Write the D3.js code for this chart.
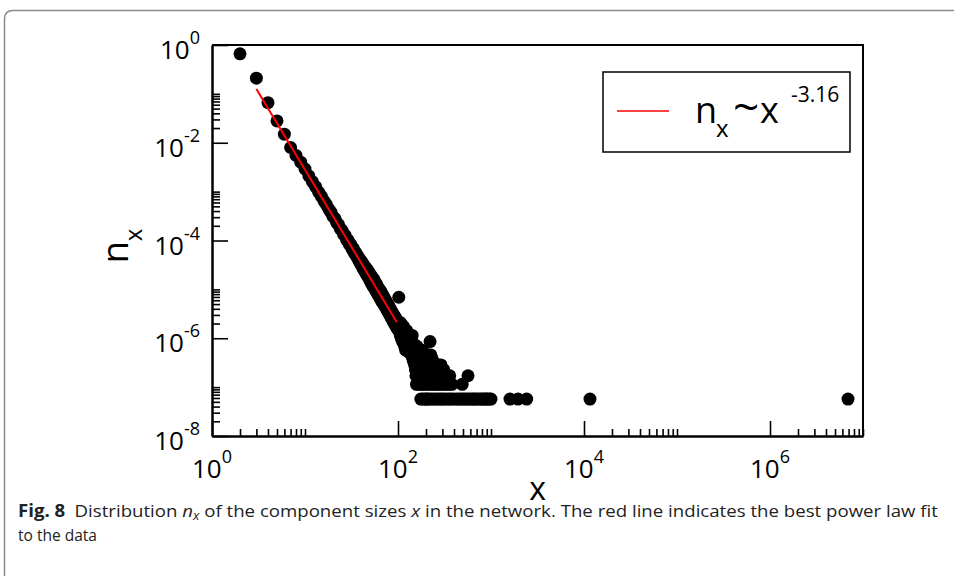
<!DOCTYPE html>
<html lang="en">
<head>
<meta charset="utf-8">
<script src="https://d3js.org/d3.v7.min.js"></script>
<style>
  body { margin: 0; background: #fff; }
  svg { display: block; font-family: "Open Sans", "Noto Sans", sans-serif; }
</style>
</head>
<body>
<div id="chart"></div>
<script>
// component sizes x and fractions n_x along the main band
const bandSize = [2, 3, 4, 5, 6, 7, 8, 9, 10, 11, 12, 13, 14, 15, 16, 17, 18, 19, 20,
  21, 22, 23, 24, 25, 26, 27, 28, 29, 30, 31, 32, 33, 34, 35, 36, 37, 38, 39, 40,
  41, 42, 43, 44, 45, 46, 47, 48, 49, 50, 51, 52, 53, 54, 55, 56, 57, 58, 59, 60,
  61, 62, 63, 64, 65, 66, 67, 68, 69, 70, 71, 72, 73, 74, 75, 76, 77, 78, 79, 80,
  81, 82, 83, 84, 85, 86, 87, 88, 89, 90, 91, 92, 93, 94, 95, 96, 97, 98, 99, 100,
  101, 102, 103, 105, 106, 108, 110, 112, 113, 116];
const bandFrac = [0.66, 0.21, 0.066, 0.028, 0.015, 0.0080, 0.0055, 0.0040, 0.0029, 0.0021,
  0.0016, 0.00126, 0.00098, 0.00080, 0.00064, 0.00054, 0.00044, 0.00038, 0.00031,
  0.00028, 0.00023, 0.00021, 0.000172, 0.000162, 0.000133, 0.000128, 0.000103, 0.000102, 8.3e-5,
  8.3e-5, 6.7e-5, 6.9e-5, 5.5e-5, 5.7e-5, 4.6e-5, 4.8e-5, 3.8e-5, 4.1e-5, 3.2e-5,
  3.6e-5, 2.7e-5, 3.1e-5, 2.3e-5, 2.8e-5, 2.0e-5, 2.5e-5, 1.75e-5, 2.2e-5, 1.5e-5,
  1.95e-5, 1.3e-5, 1.75e-5, 1.15e-5, 1.6e-5, 1.05e-5, 1.4e-5, 9.2e-6, 1.25e-5, 8.2e-6,
  1.1e-5, 7.4e-6, 1.0e-5, 6.6e-6, 9.2e-6, 6.0e-6, 8.3e-6, 5.4e-6, 7.5e-6, 5.0e-6,
  6.8e-6, 4.6e-6, 6.2e-6, 4.2e-6, 5.6e-6, 3.8e-6, 5.1e-6, 3.5e-6, 4.7e-6, 3.2e-6,
  4.3e-6, 3.0e-6, 3.9e-6, 2.7e-6, 3.6e-6, 2.5e-6, 3.3e-6, 2.3e-6, 3.1e-6, 2.1e-6,
  2.9e-6, 2.0e-6, 2.7e-6, 1.8e-6, 2.5e-6, 1.7e-6, 2.3e-6, 1.6e-6, 2.1e-6, 1.5e-6,
  2.0e-6, 6.9e-6, 1.9e-6, 1.4e-6, 2.1e-6, 1.3e-6, 1.9e-6, 1.2e-6, 1.7e-6, 1.5e-6];

// the tail sits on discrete levels (30, 25, ... 1 components)
const tailLevel = [1.71e-6, 1.43e-6, 1.14e-6, 9.7e-7, 8.55e-7, 8.0e-7, 6.84e-7, 5.7e-7,
  5.13e-7, 4.56e-7, 4.0e-7, 3.42e-7, 2.85e-7, 2.28e-7, 1.71e-7, 1.14e-7, 5.7e-8];
const tailSizes = [
  [103, 106, 108, 111, 115],
  [104, 107, 110, 114, 118, 121, 124],
  [106, 109, 112, 116, 120, 124, 128, 132, 135, 142],
  [109, 113, 117, 121, 126, 130, 133],
  [112, 114, 118, 122, 126, 130, 134, 138, 221],
  [115, 119, 125, 131, 138, 145],
  [118, 123, 128, 134, 141, 148, 154, 160],
  [121, 127, 132, 137, 143, 150, 157, 165, 172, 180],
  [132, 138, 143, 149, 155, 162, 170, 178, 188],
  [139, 143, 147, 152, 158, 165, 175, 185, 195, 205, 215, 225],
  [144, 148, 152, 158, 163, 170, 178, 185, 195, 205, 212, 222, 230],
  [146, 151, 157, 162, 168, 175, 182, 190, 200, 215, 225, 238],
  [151, 158, 162, 170, 176, 185, 195, 205, 215, 230, 245, 260, 275, 290],
  [154, 160, 166, 174, 182, 190, 200, 212, 225, 240, 260, 283, 300, 310],
  [156, 164, 172, 182, 192, 205, 218, 232, 250, 270, 300, 320, 340, 360, 566],
  [158, 168, 178, 187, 196, 210, 225, 240, 255, 270, 290, 310, 330, 355, 380, 490],
  [176, 185, 195, 203, 210, 222, 235, 250, 265, 280, 295, 310, 330, 350, 370, 390,
   420, 445, 470, 495, 520, 550, 580, 610, 640, 670, 700, 740, 780, 815, 850, 885,
   920, 960, 1000, 1600, 1950, 2420, 11600, 6900000]
];

// power law fit n_x ~ x^-3.16, end points
const fitSize = [3, 97];
const fitFrac = [0.126, 2.13e-6];

const xMajor = [1e0, 1e2, 1e4, 1e6];
const xExp = ["0", "2", "4", "6"];
const yMajor = [1e0, 1e-2, 1e-4, 1e-6, 1e-8];
const yExp = ["0", "-2", "-4", "-6", "-8"];

const W = 954, H = 576;
const plotL = 212, plotR = 863, plotT = 45, plotB = 436;

const svg = d3.select("#chart").append("svg")
  .attr("width", W).attr("height", H);

// figure frame
svg.append("path")
  .attr("d", `M4.5,${H} L4.5,19 Q4.5,10.5 13,10.5 L${W},10.5`)
  .attr("fill", "none").attr("stroke", "#8a8a8a").attr("stroke-width", 1.5);

const x = d3.scaleLog().domain([1, 1e7]).range([plotL, plotR]);
const y = d3.scaleLog().domain([1e-8, 1]).range([plotB, plotT]);

// minor ticks: 2..10 inside every other decade
const xMinor = [], yMinor = [];
[0, 2, 4, 6].forEach(d => { for (let m = 2; m <= 10; m++) xMinor.push(m * Math.pow(10, d)); });
[-2, -4, -6, -8].forEach(d => { for (let m = 2; m <= 10; m++) yMinor.push(m * Math.pow(10, d)); });

function styleAxis(g) {
  g.selectAll("path").attr("stroke", "#000").attr("stroke-width", 2);
  g.selectAll("line").attr("stroke", "#000").attr("stroke-width", 1.6);
}

svg.append("g").attr("transform", `translate(0,${plotB})`)
  .call(d3.axisBottom(x).tickValues(xMinor).tickSize(-7).tickSizeOuter(0).tickFormat(""))
  .call(styleAxis);
svg.append("g").attr("transform", `translate(0,${plotB})`)
  .call(d3.axisBottom(x).tickValues(xMajor).tickSize(-15).tickSizeOuter(0).tickFormat(""))
  .call(styleAxis);
svg.append("g").attr("transform", `translate(${plotL},0)`)
  .call(d3.axisLeft(y).tickValues(yMinor).tickSize(-8).tickSizeOuter(0).tickFormat(""))
  .call(styleAxis);
svg.append("g").attr("transform", `translate(${plotL},0)`)
  .call(d3.axisLeft(y).tickValues(yMajor).tickSize(-16).tickSizeOuter(0).tickFormat(""))
  .call(styleAxis);

// top and right frame
svg.append("path")
  .attr("d", `M${plotL},${plotT} L${plotR},${plotT} L${plotR},${plotB}`)
  .attr("fill", "none").attr("stroke", "#000").attr("stroke-width", 2);

// tick labels with superscripts
xMajor.forEach((v, i) => {
  const t = svg.append("text").attr("x", x(v)).attr("y", 478)
    .attr("text-anchor", "middle").attr("font-size", 26);
  t.append("tspan").text("10");
  t.append("tspan").attr("dy", -15).attr("font-size", 18).text(xExp[i]);
});
yMajor.forEach((v, i) => {
  const t = svg.append("text").attr("x", 200).attr("y", y(v) + 14)
    .attr("text-anchor", "end").attr("font-size", 26);
  t.append("tspan").text("10");
  t.append("tspan").attr("dy", -15).attr("font-size", 18).text(yExp[i]);
});

// axis titles
svg.append("text").attr("x", (plotL + plotR) / 2).attr("y", 500)
  .attr("text-anchor", "middle").attr("font-size", 32).text("x");
const yt = svg.append("text")
  .attr("transform", "translate(128,246) rotate(-90)")
  .attr("text-anchor", "middle").attr("font-size", 36);
yt.append("tspan").text("n");
yt.append("tspan").attr("dy", 14).attr("font-size", 24).text("x");

// data points
const points = bandSize.map((s, i) => ({ s: s, n: bandFrac[i] }));
tailSizes.forEach((row, i) => row.forEach(s => points.push({ s: s, n: tailLevel[i] })));

svg.append("g").selectAll("circle").data(points).join("circle")
  .attr("cx", d => x(d.s)).attr("cy", d => y(d.n))
  .attr("r", 6.5).attr("fill", "#000");

// fit line
svg.append("path")
  .datum(fitSize.map((s, i) => ({ s: s, n: fitFrac[i] })))
  .attr("fill", "none").attr("stroke", "#ff0000").attr("stroke-width", 2)
  .attr("d", d3.line().x(d => x(d.s)).y(d => y(d.n)));

// legend
const lg = svg.append("g");
lg.append("rect").attr("x", 603).attr("y", 72).attr("width", 247).attr("height", 80)
  .attr("fill", "#fff").attr("stroke", "#000").attr("stroke-width", 1.5);
lg.append("line").attr("x1", 617).attr("x2", 669).attr("y1", 111).attr("y2", 111)
  .attr("stroke", "#ff0000").attr("stroke-width", 1.5);
const lt = lg.append("text").attr("y", 123).attr("font-size", 36);
lt.append("tspan").attr("x", 695).text("n");
lt.append("tspan").attr("x", 716).attr("dy", 14).attr("font-size", 24).text("x");
lt.append("tspan").attr("x", 733).attr("dy", -14).attr("font-size", 46).text("~");
lt.append("tspan").attr("x", 760).text("x");
lt.append("tspan").attr("x", 791).attr("dy", -21).attr("font-size", 21).text("-3.16");

// caption
const cap = svg.append("text").attr("x", 18).attr("y", 517)
  .attr("font-size", 17).attr("fill", "#222")
  .attr("textLength", 920).attr("lengthAdjust", "spacingAndGlyphs");
cap.append("tspan").attr("font-weight", "bold").text("Fig. 8");
cap.append("tspan").text("\u2002Distribution ");
cap.append("tspan").attr("font-style", "italic").text("n");
cap.append("tspan").attr("font-style", "italic").attr("font-size", 12).attr("dy", 3).text("x");
cap.append("tspan").attr("dy", -3).text(" of the component sizes ");
cap.append("tspan").attr("font-style", "italic").text("x");
cap.append("tspan").text(" in the network. The red line indicates the best power law fit");
svg.append("text").attr("x", 18).attr("y", 541)
  .attr("font-size", 17).attr("fill", "#222")
  .attr("textLength", 79).attr("lengthAdjust", "spacingAndGlyphs")
  .text("to the data");
</script>
</body>
</html>
